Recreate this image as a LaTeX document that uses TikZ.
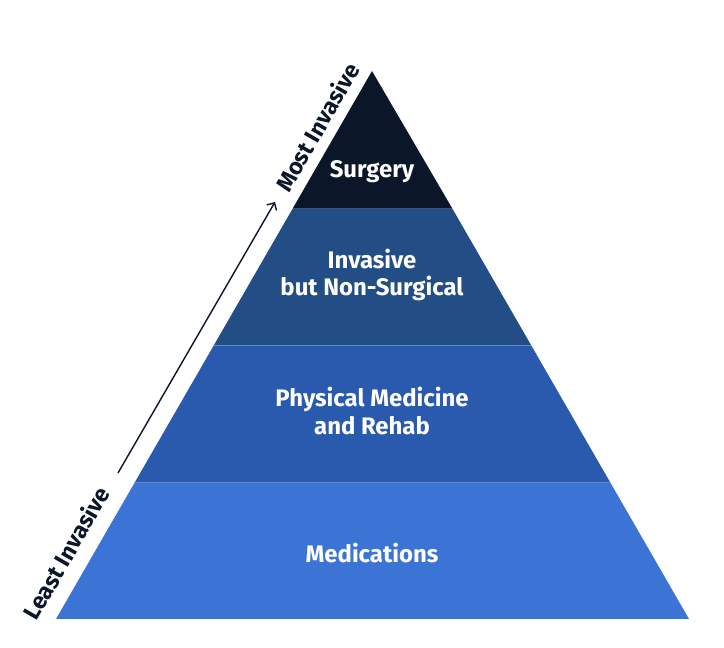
\documentclass[tikz,border=0pt]{standalone}
\usepackage{fontspec}
\usetikzlibrary{arrows.meta}
\setmainfont{Fira Sans}
\definecolor{surgcol}{HTML}{0B1629}
\definecolor{invcol}{HTML}{234E85}
\definecolor{physcol}{HTML}{2A5AAE}
\definecolor{medcol}{HTML}{3C74D6}
\definecolor{sepcol}{HTML}{5E8AD0}
\tikzset{
  tier/.style = {text=white, font=\bfseries\fontsize{17}{19.5}\selectfont, align=center},
  side/.style = {text=surgcol, font=\bfseries\fontsize{16.5}{19}\selectfont, rotate=60}
}
\begin{document}
\begin{tikzpicture}[x = 0.025cm, y = 0.025cm]
\useasboundingbox (0,0) rectangle (724,648);
% pyramid tiers
\fill [medcol] (56,29) -- (689,29) -- (610,166) -- (135,166) -- cycle;
\fill [physcol] (135,166) -- (610,166) -- (531,303) -- (214,303) -- cycle;
\fill [invcol] (214,303) -- (531,303) -- (452,440) -- (293,440) -- cycle;
\fill [surgcol] (293,440) -- (452,440) -- (372,577) -- cycle;
\draw [sepcol, line width = 0.6pt] (135,166) -- (610,166);
\draw [sepcol, line width = 0.6pt] (214,303) -- (531,303);
\draw [sepcol!60!black, line width = 0.6pt] (293,440) -- (452,440);
% labels
\node [tier] (surg) at (372,476) {Surgery};
\node [tier] (inv) at (372,373) {Invasive\\but Non-Surgical};
\node [tier] (phys) at (372,237) {Physical Medicine\\and Rehab};
\node [tier] (med) at (372,95) {Medications};
% arrow
\coordinate (lo) at (118,175);
\coordinate (hi) at (275,446);
\draw [-{Straight Barb[length=4pt, width=8pt]}, surgcol, line width = 1pt] (lo) -- (hi);
\node [side] (least) at (66,95) {Least Invasive};
\node [side] (most) at (317,521) {Most Invasive};
\end{tikzpicture}
\end{document}
